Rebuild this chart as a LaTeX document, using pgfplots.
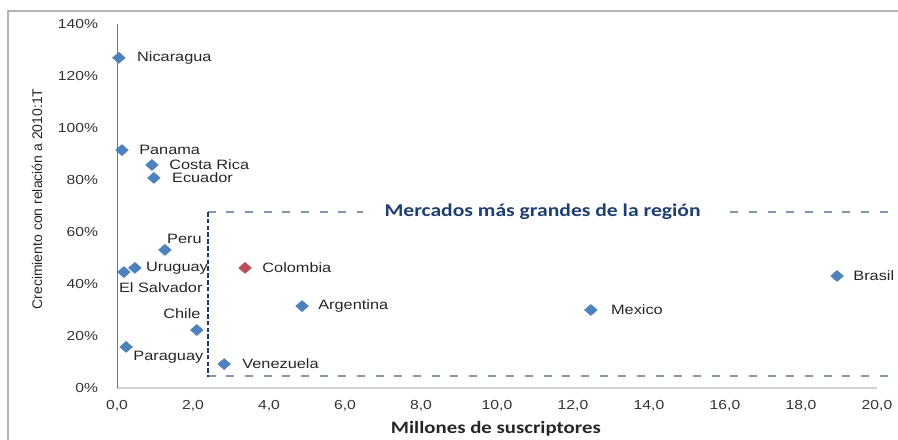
\documentclass[border=0pt]{standalone}
\usepackage{pgfplots}
\pgfplotsset{compat=1.18}
\usepackage{fontspec}
\setmainfont{Liberation Sans}[FakeStretch=1.2]
\newfontfamily\plainsans{Liberation Sans}
\newfontfamily\calibri{Carlito}[FakeStretch=1.2]

\definecolor{mblue}{HTML}{4F81BD}
\definecolor{mred}{HTML}{BE4B5A}
\definecolor{navy}{HTML}{1F3864}
\definecolor{dashgray}{HTML}{8496B0}
\definecolor{titleblue}{HTML}{1F3F73}
\definecolor{framegray}{HTML}{B4B4B4}

% \country[colour]{subscribers (millions)}{growth (%)}{name}{anchor}{dx pt}{dy pt}
\newcommand{\country}[7][mblue]{%
  \addplot[only marks, mark=diamond*, mark size=4.1pt,
    mark options={xscale=1.55, fill=#1, draw=#1},
    nodes near coords={#4},
    every node near coord/.append style={anchor=#5, xshift=#6pt, yshift=#7pt,
      inner sep=0pt, text=black!85, font=\fontsize{10.2}{12}\selectfont}]
    coordinates {(#2,#3)};
}

\begin{document}
\begin{tikzpicture}
\begin{axis}[
  scale only axis,
  width=570pt, height=273pt,
  xmin=0, xmax=20, ymin=0, ymax=140,
  clip=false,
  axis lines=left,
  axis line style={-},
  x axis line style={draw=black!18, line width=1.6pt},
  y axis line style={draw=black!55, line width=0.7pt},
  major tick length=0pt,
  xtick={0,2,...,20},
  ytick={0,20,...,140},
  /pgf/number format/assume math mode=true,
  xticklabel style={/pgf/number format/use comma, /pgf/number format/fixed,
    /pgf/number format/fixed zerofill, /pgf/number format/precision=1},
  xticklabel style={font=\fontsize{9.8}{11}\selectfont, text=black!80, anchor=north, inner sep=0pt, yshift=-9pt},
  yticklabel={\pgfmathprintnumber{\tick}\%},
  yticklabel style={font=\fontsize{9.8}{11}\selectfont, text=black!80, anchor=east, inner sep=0pt, xshift=-14pt},
]
% page frame
\coordinate (bl) at (axis cs:-3.079,-20);
\coordinate (tr) at (axis cs:20.553,149.23);
\draw[framegray, line width=1pt] (axis cs:-2.87,-30) -- (axis cs:-2.87,145.0) -- (axis cs:25,145.0);

% box around the largest markets
\draw[dashgray, line width=2pt, dash pattern=on 6pt off 8pt] (axis cs:2.39,67.7) -- (axis cs:21.5,67.7);
\draw[dashgray, line width=2pt, dash pattern=on 6pt off 8pt] (axis cs:2.39,4.6) -- (axis cs:21.5,4.6);
\draw[navy, line width=1.2pt, dash pattern=on 3.5pt off 1.6pt] (axis cs:2.39,67.7) -- (axis cs:2.39,4.3);
\node[fill=white, inner xsep=16pt, inner ysep=2pt, text=titleblue,
      font=\calibri\bfseries\fontsize{13.5}{15}\selectfont] at (axis cs:11.2,67.7) {Mercados más grandes de la región};

\country{0.05}{127.0}{Nicaragua}{west}{13.5}{0}
\country{0.13}{91.5}{Panama}{west}{12.8}{0}
\country{0.92}{85.8}{Costa Rica}{west}{12.8}{0}
\country{0.97}{80.8}{Ecuador}{west}{13.5}{0}
\country{1.26}{53.1}{Peru}{west}{1.5}{8.3}
\country{0.47}{46.2}{Uruguay}{west}{8.3}{0}
\country{0.18}{44.6}{El Salvador}{west}{-3.8}{-12}
\country{2.10}{22.3}{Chile}{east}{3}{12}
\country{0.24}{15.8}{Paraguay}{west}{5.3}{-7.5}
\country{2.82}{9.2}{Venezuela}{west}{13.5}{0}
\country[mred]{3.37}{46.2}{Colombia}{west}{12.8}{0}
\country{4.87}{31.5}{Argentina}{west}{12}{0}
\country{12.47}{30.0}{Mexico}{west}{15}{0}
\country{18.95}{43.1}{Brasil}{west}{12}{0}

% axis titles
\node[rotate=90, font=\plainsans\fontsize{10.5}{12}\selectfont, text=black!85] at (axis cs:-2.105,72.7) {Crecimiento con relación a 2010:1T};
\node[font=\calibri\bfseries\fontsize{13}{15}\selectfont, text=black!85] at (axis cs:9.97,-15.8) {Millones de suscriptores};
\end{axis}
\pgfresetboundingbox
\path[use as bounding box] (bl) rectangle (tr);
\end{tikzpicture}
\end{document}
